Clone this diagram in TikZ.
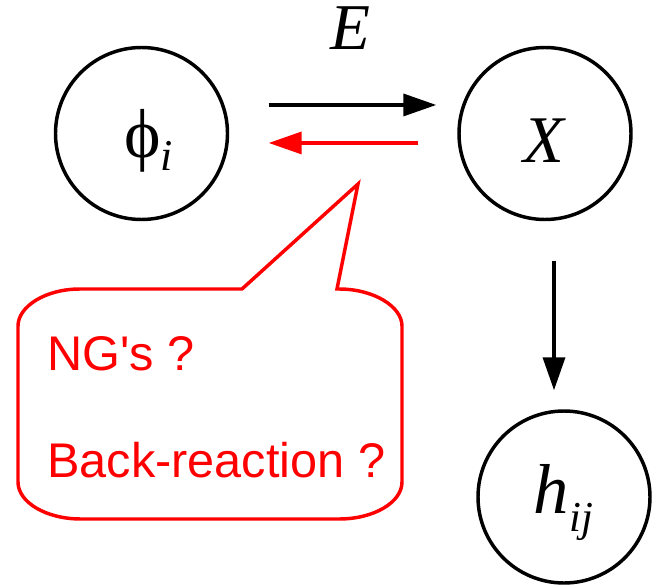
\documentclass[tikz,border=0pt]{standalone}
\usepackage{fontspec}
\setmainfont{Liberation Serif}
\newfontfamily\bubblefont{Liberation Sans}
\usetikzlibrary{arrows.meta}
\begin{document}
\begin{tikzpicture}[x=0.75pt,y=-0.75pt,
  circ/.style={draw=black, line width=2.6pt, circle, minimum size=129pt, inner sep=0pt},
  lbl/.style={inner sep=0pt, anchor=base},
  arr/.style={line width=2.7pt, -{Triangle[length=24.75pt,width=16.5pt]}},
  redarr/.style={arr, draw=red, fill=red, line width=2.6pt},
  bubble/.style={draw=red, line width=2.6pt, line join=miter},
  btext/.style={text=red, inner sep=0pt, anchor=base west, font=\bubblefont\fontsize{36.5}{36.5}\selectfont}]
\useasboundingbox (0,0) rectangle (653,585);
% circles
\node[circ] (phi) at (141.5,133.5) {};
\node[circ] (X) at (545,133.5) {};
\node[circ] (h) at (564,497) {};
% labels
\node[lbl] (phitext) at (148.5,157) {\fontsize{52}{52}\selectfont ϕ\raisebox{-10pt}{\fontsize{33}{33}\selectfont\itshape i}};
\node[lbl] (Xtext) at (544,162) {\fontsize{50}{50}\selectfont\itshape X};
\node[lbl] (htext) at (563.5,513) {\fontsize{53}{53}\selectfont\itshape h\raisebox{-14pt}{\fontsize{32}{32}\selectfont ij}};
\node[lbl] (E) at (350,50) {\fontsize{49}{49}\selectfont\itshape E};
% arrows
\draw[arr, shorten <=29.6pt, shorten >=15.75pt] ([yshift=21.4pt]phi.east) -- ([yshift=21.4pt]X.west);
\draw[redarr, shorten <=29.25pt, shorten >=29.6pt] ([yshift=-7.1pt]X.west) -- ([yshift=-7.1pt]phi.east);
\draw[arr, shorten <=29.6pt, shorten >=14.25pt] ([xshift=6.75pt]X.south) -- ([xshift=-7.5pt]h.north);
% speech bubble
\draw[bubble] (80,289) -- (242,289) -- (358,184) -- (337,289) -- (339,289)
  .. controls (373.8,289) and (402,306.6) .. (402,326) -- (402,482)
  .. controls (402,502.4) and (373.8,519) .. (339,519) -- (81,519)
  .. controls (46.2,519) and (18,502.4) .. (18,482) -- (18,326)
  .. controls (18,306.6) and (45.2,289) .. (80,289) -- cycle;
\node[btext] (ng) at (47,370) {NG's ?};
\node[btext] (br) at (47,477) {Back-reaction ?};
\end{tikzpicture}
\end{document}
